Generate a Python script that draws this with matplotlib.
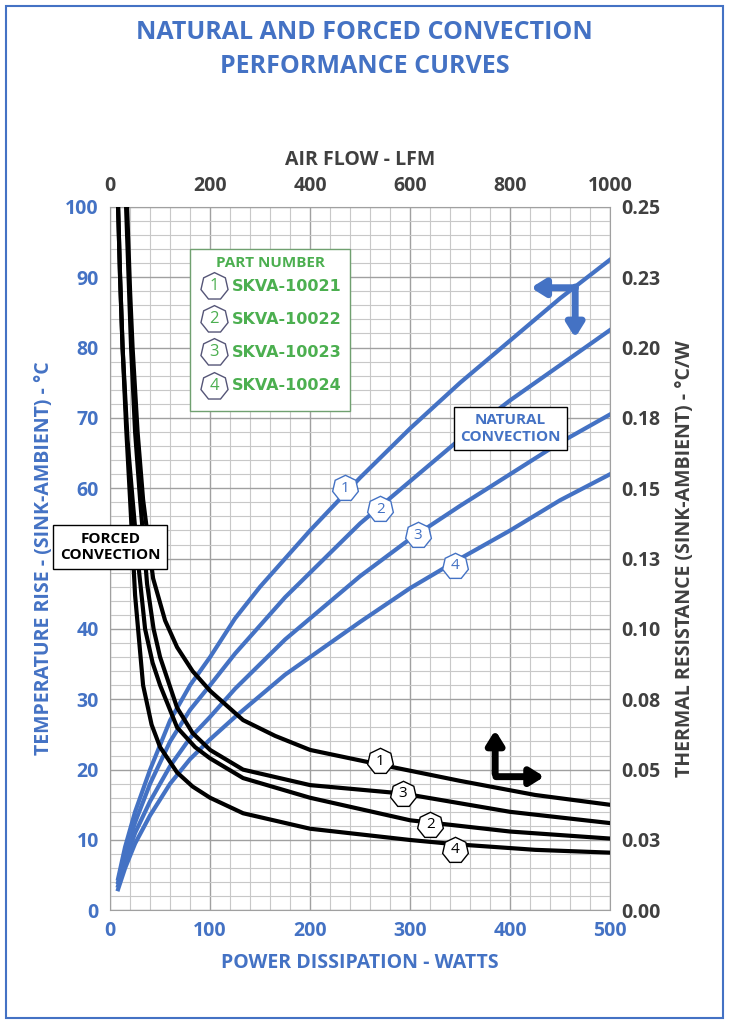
import numpy as np
import matplotlib.pyplot as plt
from matplotlib.ticker import MultipleLocator

plt.rcParams['font.family'] = ['Open Sans', 'DejaVu Sans']
plt.rcParams['font.weight'] = 'bold'

BLUE = '#4472C4'
GREEN = '#4CAF50'
GREY = '#404040'

# natural convection: power (W) vs temperature rise (C)
nat_w = [8, 15, 25, 40, 60, 80, 100, 125, 150, 175, 200, 250, 300, 350, 400, 450, 500]
nat_1 = [4.5, 9, 14, 20, 27, 32, 36, 41.5, 46, 50, 54, 61.5, 68.5, 75, 81, 87, 92.5]
nat_2 = [4, 8, 12.5, 18, 24, 28.5, 32, 36.5, 40.5, 44.5, 48, 55, 61, 67, 72.5, 77.5, 82.5]
nat_3 = [3.5, 7, 11, 15.5, 20.5, 24.5, 27.5, 31.5, 35, 38.5, 41.5, 47.5, 52.8, 57.5, 62, 66.5, 70.5]
nat_4 = [3, 6, 9.5, 13.5, 18, 21.5, 24.3, 27.5, 30.5, 33.5, 36, 41, 45.8, 50, 54, 58.3, 62]

# forced convection: air flow (LFM) vs thermal resistance (C/W)
lfm_1 = [34, 40, 45, 55, 66, 86, 110, 134, 165, 200, 266, 330, 400, 534, 700, 850, 1000]
frc_1 = [0.25, 0.22, 0.2, 0.17, 0.146, 0.118, 0.103, 0.0935, 0.085, 0.078, 0.0676, 0.062, 0.057, 0.052, 0.046, 0.041, 0.0375]
lfm_2 = [16, 20, 25, 35, 45, 57, 70, 85, 100, 134, 170, 200, 266, 400, 600, 800, 1000]
frc_2 = [0.25, 0.225, 0.2, 0.167, 0.146, 0.122, 0.1, 0.088, 0.08, 0.065, 0.058, 0.054, 0.047, 0.04, 0.032, 0.028, 0.0255]
lfm_3 = [32, 37, 42, 50, 60, 74, 87, 100, 134, 165, 200, 266, 400, 586, 800, 1000]
frc_3 = [0.25, 0.225, 0.2, 0.17, 0.146, 0.116, 0.1, 0.09, 0.072, 0.063, 0.057, 0.05, 0.0445, 0.0415, 0.035, 0.031]
lfm_4 = [16, 20, 25, 32, 40, 50, 66, 83, 100, 134, 165, 200, 266, 400, 600, 690, 850, 1000]
frc_4 = [0.25, 0.225, 0.2, 0.172, 0.146, 0.112, 0.08, 0.066, 0.058, 0.049, 0.044, 0.04, 0.0345, 0.029, 0.025, 0.0235, 0.0215, 0.0205]

right_labels = ['0.00', '0.03', '0.05', '0.08', '0.10', '0.13', '0.15', '0.18', '0.20', '0.23', '0.25']

fig = plt.figure(figsize=(7.29, 10.24), dpi=100)
fig.patches.append(plt.Rectangle((0.008, 0.006), 0.984, 0.988, transform=fig.transFigure,
                                 fill=False, edgecolor=BLUE, lw=1.5))
fig.text(0.5, 0.98, 'NATURAL AND FORCED CONVECTION\nPERFORMANCE CURVES', ha='center', va='top',
         color=BLUE, fontsize=18, linespacing=1.45)

rect = [0.151, 0.111, 0.686, 0.687]
ax = fig.add_axes(rect)
ax.set_xlim(0, 500)
ax.set_ylim(0, 100)
ax.xaxis.set_major_locator(MultipleLocator(100))
ax.yaxis.set_major_locator(MultipleLocator(10))
ax.xaxis.set_minor_locator(MultipleLocator(20))
ax.yaxis.set_minor_locator(MultipleLocator(2))
ax.grid(which='minor', color='#c8c8c8', lw=0.8)
ax.grid(which='major', color='#a0a0a0', lw=1.0)
ax.tick_params(which='both', length=0, colors=BLUE, labelsize=14, pad=8)
for s in ax.spines.values():
    s.set_color('#a0a0a0')
ax.set_xlabel('POWER DISSIPATION - WATTS', color=BLUE, fontsize=14, fontweight='bold', labelpad=8)
ax.set_ylabel('TEMPERATURE RISE - (SINK-AMBIENT) - °C', color=BLUE, fontsize=14,
              fontweight='bold', labelpad=8)

for ys in (nat_1, nat_2, nat_3, nat_4):
    ax.plot(nat_w, ys, color=BLUE, lw=3, solid_joinstyle='round')

ax2 = fig.add_axes(rect, frameon=False)
ax2.set_xlim(0, 1000)
ax2.set_ylim(0, 0.25)
ax2.xaxis.tick_top()
ax2.xaxis.set_label_position('top')
ax2.yaxis.tick_right()
ax2.yaxis.set_label_position('right')
ax2.set_xticks(np.arange(0, 1001, 200))
ax2.set_yticks(np.linspace(0, 0.25, 11))
ax2.set_yticklabels(right_labels)
ax2.tick_params(length=0, colors=GREY, labelsize=14, pad=8)
ax2.set_xlabel('AIR FLOW - LFM', color=GREY, fontsize=14, fontweight='bold', labelpad=8)
ax2.set_ylabel('THERMAL RESISTANCE (SINK-AMBIENT) - °C/W', color=GREY, fontsize=14,
               fontweight='bold', labelpad=10)
ax2.patch.set_alpha(0)

for xs, ys in ((lfm_1, frc_1), (lfm_2, frc_2), (lfm_3, frc_3), (lfm_4, frc_4)):
    ax2.plot(xs, ys, color='black', lw=3, solid_joinstyle='round')

def hexlabel(a, x, y, t, ec, tc):
    a.plot(x, y, marker=(7, 0, 0), ms=19, mfc='white', mec=ec, mew=1, zorder=5)
    a.text(x, y, t, ha='center', va='center', fontsize=11, fontweight='normal', color=tc, zorder=6)

for x, y, t in ((235, 60, '1'), (270, 57, '2'), (308, 53.3, '3'), (345, 49, '4')):
    hexlabel(ax, x, y, t, BLUE, BLUE)
for x, y, t in ((540, 0.053, '1'), (586, 0.0415, '3'), (640, 0.0305, '2'), (690, 0.0215, '4')):
    hexlabel(ax2, x, y, t, 'black', 'black')

# legend box
ax.add_patch(plt.Rectangle((80, 71), 160, 23, facecolor='white', edgecolor='#70a070', lw=1, zorder=4))
ax.text(160, 92, 'PART NUMBER', ha='center', va='center', color=GREEN, fontsize=11, zorder=6)
for i, pn in enumerate(['SKVA-10021', 'SKVA-10022', 'SKVA-10023', 'SKVA-10024']):
    yy = 88.7 - i * 4.7
    ax.plot(104, yy, marker=(7, 0, 0), ms=20, mfc='white', mec='#555577', mew=1, zorder=5)
    ax.text(104, yy, str(i + 1), ha='center', va='center', color=GREEN, fontsize=12,
            fontweight='normal', zorder=6)
    ax.text(122, yy, pn, ha='left', va='center', color=GREEN, fontsize=11.5,
            family=['DejaVu Sans'], zorder=6)

ax.text(400, 68.5, 'NATURAL\nCONVECTION', ha='center', va='center', color=BLUE, fontsize=11,
        bbox=dict(boxstyle='square,pad=0.4', fc='white', ec='black'), zorder=6)
ax2.text(0.1275, 0.129, 'FORCED\nCONVECTION', ha='center', va='center', color='black', fontsize=11,
         transform=ax2.transData, bbox=dict(boxstyle='square,pad=0.45', fc='white', ec='black'),
         zorder=6)

# direction arrows
ax.annotate('', xy=(418, 88.5), xytext=(468, 88.5),
            arrowprops=dict(arrowstyle='-|>,head_width=0.5,head_length=0.8', color=BLUE, lw=5))
ax.annotate('', xy=(465, 81), xytext=(465, 89),
            arrowprops=dict(arrowstyle='-|>,head_width=0.5,head_length=0.8', color=BLUE, lw=5))
ax.annotate('', xy=(385, 26), xytext=(385, 19),
            arrowprops=dict(arrowstyle='-|>,head_width=0.5,head_length=0.8', color='black', lw=5))
ax.annotate('', xy=(437, 19), xytext=(383, 19),
            arrowprops=dict(arrowstyle='-|>,head_width=0.5,head_length=0.8', color='black', lw=5))

fig.savefig('out.png', dpi=100)
